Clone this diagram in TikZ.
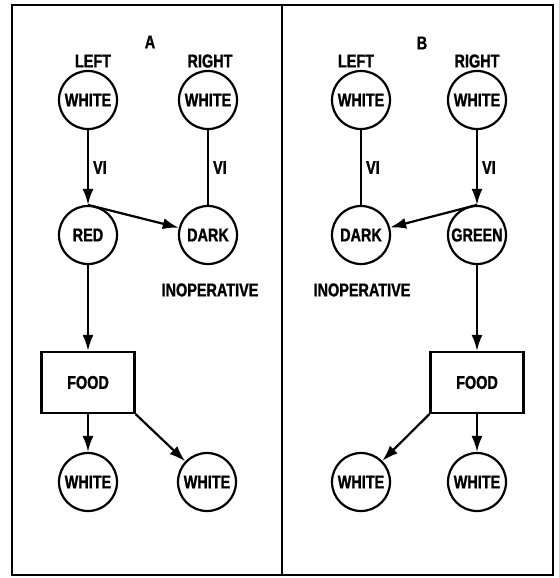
\documentclass[tikz,border=0pt]{standalone}
\usepackage{fontspec}
\newfontfamily\lbl{Liberation Sans}[FakeStretch=0.78, FakeBold=1.2]
\usetikzlibrary{arrows.meta}
\begin{document}
\begin{tikzpicture}[x=1pt,y=-1pt,
  every node/.style={font=\lbl\bfseries\fontsize{18.5}{18.5}\selectfont},
  state/.style={draw, circle, line width=2.2pt, minimum size=58pt, inner sep=0pt},
  foodbox/.style={draw, rectangle, line width=2.2pt, minimum width=93pt, minimum height=61pt, inner sep=0pt},
  tag/.style={inner sep=0pt},
  conn/.style={line width=2.2pt},
  flow/.style={conn, -{Latex[length=16pt,width=11pt]}},
  frame/.style={line width=2.4pt}]
  \useasboundingbox (0,0) rectangle (559,578);

  % outer frame and divider
  \draw[frame] (12,5) rectangle (553,575);
  \draw[frame] (282,5) -- (282,575);

  % ---------- panel A ----------
  \node[tag] (tA) at (150,42) {A};
  \node[tag] (lA) at (93,61) {LEFT};
  \node[tag] (rA) at (210,61) {RIGHT};
  \node[state] (lwA) at (88,100) {WHITE};
  \node[state] (rwA) at (208,100) {WHITE};
  \node[state] (red) at (88,235) {RED};
  \node[state] (dkA) at (208,235) {DARK};
  \node[tag] (inA) at (210,290) {INOPERATIVE};
  \node[foodbox] (fA) at (88,382.5) {FOOD};
  \node[state] (b1A) at (88,482) {WHITE};
  \node[state] (b2A) at (207,482) {WHITE};

  \draw[flow] (lwA) -- node[tag, right=4pt] {VI} (red);
  \draw[conn] (rwA) -- node[tag, right=4pt] {VI} (dkA);
  \draw[flow] (red.north) -- (dkA);
  \draw[flow] (red) -- (fA);
  \draw[flow] (fA) -- (b1A);
  \draw[flow] (fA.south east) -- (b2A);

  % ---------- panel B ----------
  \node[tag] (tB) at (422,43) {B};
  \node[tag] (lB) at (356,61) {LEFT};
  \node[tag] (rB) at (477,61) {RIGHT};
  \node[state] (lwB) at (361,100) {WHITE};
  \node[state] (rwB) at (477,100) {WHITE};
  \node[state] (dkB) at (361,235) {DARK};
  \node[state] (green) at (477,235) {GREEN};
  \node[tag] (inB) at (362,290) {INOPERATIVE};
  \node[foodbox] (fB) at (477,382.5) {FOOD};
  \node[state] (b1B) at (361,482) {WHITE};
  \node[state] (b2B) at (477,482) {WHITE};

  \draw[conn] (lwB) -- node[tag, right=4pt] {VI} (dkB);
  \draw[flow] (rwB) -- node[tag, right=4pt] {VI} (green);
  \draw[flow] (green.north) -- (dkB);
  \draw[flow] (green) -- (fB);
  \draw[flow] (fB) -- (b2B);
  \draw[flow] (fB.south west) -- (b1B);
\end{tikzpicture}
\end{document}
